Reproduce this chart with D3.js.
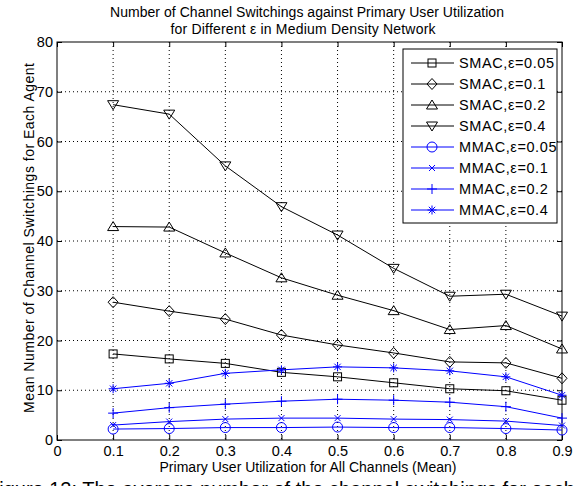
<!DOCTYPE html>
<html>
<head>
<meta charset="utf-8">
<script src="https://cdn.jsdelivr.net/npm/d3@7"></script>
<style>
  body { margin: 0; background: #fff; }
  text { font-family: "Liberation Sans", Arial, sans-serif; }
</style>
</head>
<body>
<div id="chart"></div>
<script>
const width = 578;
const height = 486;

const utilization = [0.1, 0.2, 0.3, 0.4, 0.5, 0.6, 0.7, 0.8, 0.9];
const xTicks = [0, 0.1, 0.2, 0.3, 0.4, 0.5, 0.6, 0.7, 0.8, 0.9];
const yTicks = [0, 10, 20, 30, 40, 50, 60, 70, 80];

const smac005 = [17.3, 16.3, 15.4, 13.6, 12.7, 11.5, 10.3, 9.9, 8.0];
const smac01 = [27.7, 25.9, 24.3, 21.1, 19.1, 17.5, 15.7, 15.5, 12.4];
const smac02 = [42.9, 42.8, 37.6, 32.6, 29.1, 26.0, 22.2, 23.0, 18.3];
const smac04 = [67.4, 65.5, 55.1, 46.9, 41.2, 34.5, 28.9, 29.3, 24.9];
const mmac005 = [2.2, 2.3, 2.5, 2.5, 2.6, 2.5, 2.5, 2.3, 2.0];
const mmac01 = [3.0, 3.7, 4.2, 4.4, 4.4, 4.2, 4.1, 3.8, 2.9];
const mmac02 = [5.4, 6.5, 7.2, 7.8, 8.2, 8.0, 7.6, 6.7, 4.4];
const mmac04 = [10.3, 11.4, 13.4, 14.1, 14.7, 14.5, 13.9, 12.7, 9.0];

const seriesNames = ["SMAC,\u03b5=0.05", "SMAC,\u03b5=0.1", "SMAC,\u03b5=0.2", "SMAC,\u03b5=0.4",
                     "MMAC,\u03b5=0.05", "MMAC,\u03b5=0.1", "MMAC,\u03b5=0.2", "MMAC,\u03b5=0.4"];
const seriesValues = [smac005, smac01, smac02, smac04, mmac005, mmac01, mmac02, mmac04];
const seriesMarkers = ["square", "diamond", "up", "down", "circle", "x", "plus", "star"];

const series = seriesNames.map((name, i) => ({
    name,
    values: seriesValues[i],
    marker: seriesMarkers[i],
    color: i < 4 ? "#000" : "#0000ff"
}));

const margin = { left: 57, right: 16, top: 42, bottom: 46 };
const plotW = width - margin.left - margin.right;
const plotH = height - margin.top - margin.bottom;

const x = d3.scaleLinear().domain([0, 0.9]).range([margin.left, margin.left + plotW]);
const y = d3.scaleLinear().domain([0, 80]).range([margin.top + plotH, margin.top]);

const svg = d3.select("#chart")
    .append("svg")
    .attr("width", width)
    .attr("height", height);

// grid
svg.append("g")
    .selectAll("line")
    .data(xTicks.slice(1, -1))
    .enter()
    .append("line")
    .attr("x1", d => x(d)).attr("x2", d => x(d))
    .attr("y1", margin.top).attr("y2", margin.top + plotH)
    .attr("stroke", "#000")
    .attr("stroke-width", 1)
    .attr("stroke-dasharray", "1,3");

svg.append("g")
    .selectAll("line")
    .data(yTicks.slice(1, -1))
    .enter()
    .append("line")
    .attr("x1", margin.left).attr("x2", margin.left + plotW)
    .attr("y1", d => y(d)).attr("y2", d => y(d))
    .attr("stroke", "#000")
    .attr("stroke-width", 1)
    .attr("stroke-dasharray", "1,3");

// axes with inward ticks on all four sides
const tickLen = 5;
svg.append("g")
    .attr("transform", `translate(0,${margin.top + plotH})`)
    .call(d3.axisBottom(x).tickValues(xTicks).tickSizeInner(-tickLen).tickSizeOuter(0).tickPadding(6)
        .tickFormat(d => d === 0 ? "0" : d3.format(".1f")(d)))
    .call(g => g.select(".domain").remove());

svg.append("g")
    .attr("transform", `translate(0,${margin.top})`)
    .call(d3.axisTop(x).tickValues(xTicks).tickSizeInner(-tickLen).tickSizeOuter(0).tickFormat(""))
    .call(g => g.select(".domain").remove());

svg.append("g")
    .attr("transform", `translate(${margin.left},0)`)
    .call(d3.axisLeft(y).tickValues(yTicks).tickSizeInner(-tickLen).tickSizeOuter(0).tickPadding(4))
    .call(g => g.select(".domain").remove());

svg.append("g")
    .attr("transform", `translate(${margin.left + plotW},0)`)
    .call(d3.axisRight(y).tickValues(yTicks).tickSizeInner(-tickLen).tickSizeOuter(0).tickFormat(""))
    .call(g => g.select(".domain").remove());

svg.selectAll(".tick text")
    .attr("font-size", 14.5)
    .attr("font-family", "Liberation Sans, Arial, sans-serif")
    .attr("fill", "#000");

svg.append("rect")
    .attr("x", margin.left).attr("y", margin.top)
    .attr("width", plotW).attr("height", plotH)
    .attr("fill", "none")
    .attr("stroke", "#000")
    .attr("stroke-width", 1);

// marker drawing
function drawMarker(g, type, color) {
    const s = 4.5;
    switch (type) {
        case "square":
            g.append("rect").attr("x", -4).attr("y", -4).attr("width", 8).attr("height", 8)
                .attr("fill", "none").attr("stroke", color);
            break;
        case "diamond":
            g.append("path").attr("d", "M0,-5.5L5,0L0,5.5L-5,0Z").attr("fill", "none").attr("stroke", color);
            break;
        case "up":
            g.append("path").attr("d", "M0,-5L5.5,4L-5.5,4Z").attr("fill", "none").attr("stroke", color);
            break;
        case "down":
            g.append("path").attr("d", "M0,5L5.5,-4L-5.5,-4Z").attr("fill", "none").attr("stroke", color);
            break;
        case "circle":
            g.append("circle").attr("r", 5).attr("fill", "none").attr("stroke", color);
            break;
        case "x":
            g.append("path").attr("d", `M-3,-3L3,3M-3,3L3,-3`).attr("stroke", color);
            break;
        case "plus":
            g.append("path").attr("d", `M-5,0L5,0M0,-5L0,5`).attr("stroke", color);
            break;
        case "star":
            g.append("path").attr("d", `M-${s},0L${s},0M0,-${s}L0,${s}M-3.2,-3.2L3.2,3.2M-3.2,3.2L3.2,-3.2`)
                .attr("stroke", color);
            break;
    }
}

const line = d3.line()
    .x((d, i) => x(utilization[i]))
    .y(d => y(d));

series.forEach(s => {
    svg.append("path")
        .datum(s.values)
        .attr("d", line)
        .attr("fill", "none")
        .attr("stroke", s.color)
        .attr("stroke-width", 1);

    s.values.forEach((v, i) => {
        const g = svg.append("g").attr("transform", `translate(${x(utilization[i])},${y(v)})`);
        drawMarker(g, s.marker, s.color);
    });
});

// legend
const legend = svg.append("g").attr("transform", "translate(403,49)");
legend.append("rect")
    .attr("width", 154).attr("height", 174)
    .attr("fill", "#fff").attr("stroke", "#000");

series.forEach((s, i) => {
    const ly = 14 + i * 21;
    const row = legend.append("g").attr("transform", `translate(0,${ly})`);
    row.append("line")
        .attr("x1", 8).attr("x2", 51)
        .attr("stroke", s.color).attr("stroke-width", 1);
    drawMarker(row.append("g").attr("transform", "translate(29,0)"), s.marker, s.color);
    row.append("text")
        .attr("x", 56).attr("y", 5)
        .attr("font-size", 14.5)
        .attr("letter-spacing", 0.6)
        .attr("fill", "#000")
        .text(s.name);
});

// titles
svg.append("text")
    .attr("x", 307).attr("y", 17)
    .attr("text-anchor", "middle").attr("font-size", 14)
    .attr("textLength", 394).attr("lengthAdjust", "spacing")
    .text("Number of Channel Switchings against Primary User Utilization");
svg.append("text")
    .attr("x", 303).attr("y", 34)
    .attr("text-anchor", "middle").attr("font-size", 14)
    .attr("textLength", 265).attr("lengthAdjust", "spacing")
    .text("for Different \u03b5 in Medium Density Network");

svg.append("text")
    .attr("x", 308).attr("y", 472)
    .attr("text-anchor", "middle").attr("font-size", 14)
    .attr("textLength", 297).attr("lengthAdjust", "spacing")
    .text("Primary User Utilization for All Channels (Mean)");

svg.append("text")
    .attr("transform", `translate(34,238) rotate(-90)`)
    .attr("text-anchor", "middle").attr("font-size", 14)
    .attr("textLength", 350).attr("lengthAdjust", "spacing")
    .text("Mean Number of Channel Switchings for Each Agent");

// cut-off caption below the figure
svg.append("text")
    .attr("x", -13).attr("y", 496)
    .attr("font-family", "Liberation Serif, Times New Roman, serif")
    .attr("font-size", 20)
    .text("Figure 12: The average number of the channel switchings for each agent");
</script>
</body>
</html>
